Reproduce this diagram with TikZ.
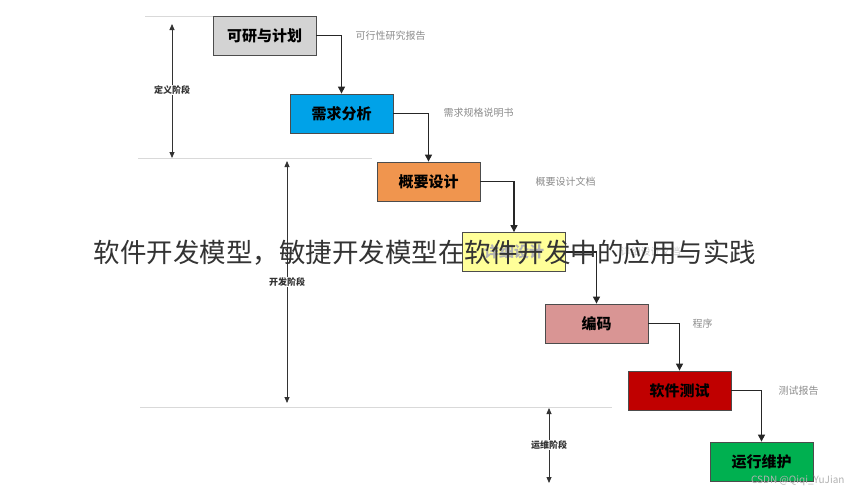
\documentclass[tikz,border=0pt]{standalone}
\usepackage{fontspec}
\setmainfont{Noto Sans CJK SC}
\usetikzlibrary{arrows.meta}
\begin{document}
\begin{tikzpicture}[x=1pt,y=-1pt,
  box/.style={draw=black!70,line width=0.8pt,minimum width=103pt,minimum height=39pt,inner sep=0pt,font=\fontsize{15}{17}\selectfont\bfseries},
  flow/.style={draw=black!85,line width=1.1pt,-{Triangle[length=7pt,width=7pt]}},
  doc/.style={text=black!45,font=\fontsize{10}{12}\selectfont,anchor=west},
  phase/.style={fill=white,inner sep=1pt,font=\fontsize{9}{11}\selectfont\bfseries,text=black!80},
  span/.style={draw=black!80,line width=0.8pt,{Triangle[length=6pt,width=5pt]}-{Triangle[length=6pt,width=5pt]}},
  sep/.style={draw=black!15,line width=0.8pt}]
\useasboundingbox (0,0) rectangle (851,490);
\fill[white] (0,0) rectangle (851,490);
\node[box,fill={rgb,255:red,211;green,211;blue,211}] (b1) at (264.5,35.5) {可研与计划};
\node[box,fill={rgb,255:red,0;green,162;blue,232}] (b2) at (341.5,113.5) {需求分析};
\node[box,fill={rgb,255:red,240;green,149;blue,78}] (b3) at (428.5,181.5) {概要设计};
\node[box,fill={rgb,255:red,255;green,255;blue,153},text=black!30] (b4) at (514,252) {详细设计};
\node[box,fill={rgb,255:red,217;green,149;blue,148}] (b5) at (596.5,323.5) {编码};
\node[box,fill={rgb,255:red,192;green,0;blue,0}] (b6) at (679.5,390.5) {软件测试};
\node[box,fill={rgb,255:red,0;green,176;blue,80}] (b7) at (761.5,461.5) {运行维护};
\foreach \a/\b in {b1/b2,b2/b3,b3/b4,b4/b5,b5/b6,b6/b7}
  \draw[flow] (\a.east) -| (\b.north);
\node[doc] (d1) at (352,36) {可行性研究报告};
\node[doc] (d2) at (440,113) {需求规格说明书};
\node[doc] (d3) at (532,182) {概要设计文档};
\node[doc,text=black!20] (d4) at (617,252) {详细设计文档};
\node[doc] (d5) at (689,324) {程序};
\node[doc] (d6) at (775,391) {测试报告};
\coordinate (l1a) at (145,16); \coordinate (l1b) at (213,16);
\coordinate (l2a) at (138,158); \coordinate (l2b) at (372,158);
\coordinate (l3a) at (140,407); \coordinate (l3b) at (612,407);
\draw[sep] (l1a) -- (l1b); \draw[sep] (l2a) -- (l2b); \draw[sep] (l3a) -- (l3b);
\coordinate (p1a) at (172,24); \coordinate (p1b) at (172,158);
\coordinate (p2a) at (287,161); \coordinate (p2b) at (287,403);
\coordinate (p3a) at (549,408); \coordinate (p3b) at (549,483);
\draw[span] (p1a) -- (p1b); \draw[span] (p2a) -- (p2b); \draw[span] (p3a) -- (p3b);
\node[phase] (t1) at (172,90) {定义阶段};
\node[phase] (t2) at (287,282) {开发阶段};
\node[phase] (t3) at (549,445) {运维阶段};
\node[font=\fontsize{26.5}{30}\selectfont,text=black!80] (title) at (425,253) {软件开发模型，敏捷开发模型在软件开发中的应用与实践};
\node[font=\fontsize{10}{12}\selectfont,text=black!30,anchor=east] (wm) at (848,481) {CSDN @Qiqi\_YuJian};
\end{tikzpicture}
\end{document}
